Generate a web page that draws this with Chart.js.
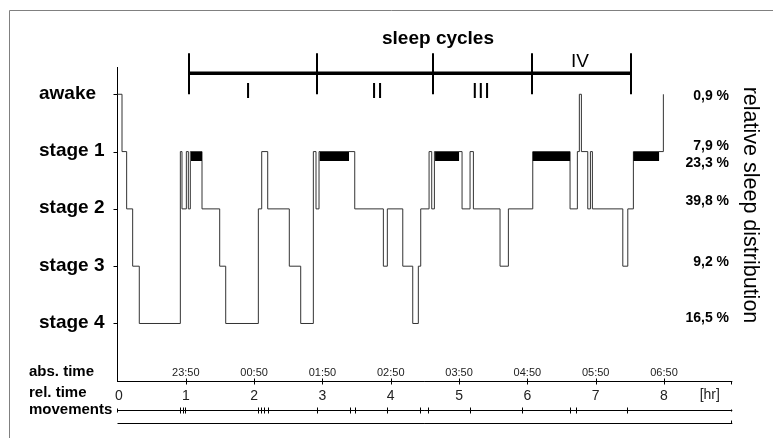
<!DOCTYPE html>
<html><head><meta charset="utf-8">
<script src="https://cdn.jsdelivr.net/npm/chart.js@4/dist/chart.umd.min.js"></script>
<style>html,body{margin:0;padding:0;background:#fff;}canvas{display:block;}</style>
</head><body>
<canvas id="c" width="773" height="438"></canvas>
<script>
// ---- data (hours since start, stage: 0=awake,1..4=stage 1..4) ----
const stageLabels = ['awake', 'stage 1', 'stage 2', 'stage 3', 'stage 4'];
const stagePercents = ['0,9 %', '7,9 %', '39,8 %', '9,2 %', '16,5 %'];
const remPercent = '23,3 %';
const hypnoTimes = [0.000, 0.066, 0.134, 0.222, 0.319, 0.920, 0.944, 1.008, 1.037, 1.066,
  1.237, 1.496, 1.584, 2.062, 2.111, 2.199, 2.515, 2.682, 2.867, 2.906, 2.950, 3.473,
  3.892, 3.950, 4.176, 4.322, 4.404, 4.439, 4.561, 4.600, 4.639, 5.044, 5.161, 5.210,
  5.600, 5.722, 6.079, 6.625, 6.732, 6.761, 6.791, 6.884, 6.923, 6.952, 7.397, 7.470,
  7.552, 7.991];
const hypnoStages = [0, 1, 2, 3, 4, 1, 2, 1, 2, 1,
  2, 3, 4, 2, 1, 2, 3, 4, 1, 2, 1, 2,
  3, 2, 3, 4, 3, 2, 1, 2, 1, 2, 1, 2,
  3, 2, 1, 2, 1, 0, 1, 2, 1, 2, 3, 2,
  1, 0];
const remStarts = [1.076, 2.960, 4.649, 6.079, 7.552];
const remEnds   = [1.237, 3.389, 5.000, 6.625, 7.928];
const cycleBounds = [1.051, 2.921, 4.619, 6.073, 7.513];
const cycleNames = ['I', 'II', 'III', 'IV'];
const cycleLabelAt = [1.91, 3.80, 5.32, 6.77];
const relTicks = [0, 1, 2, 3, 4, 5, 6, 7, 8];
const relTickLabels = ['0', '1', '2', '3', '4', '5', '6', '7', '8'];
const absTimeLabels = ['23:50', '00:50', '01:50', '02:50', '03:50', '04:50', '05:50', '06:50'];
const movementTimes = [0.915, 0.952, 0.993, 2.064, 2.101, 2.138, 2.196, 2.917, 3.404, 3.477,
  3.941, 4.429, 4.546, 5.161, 5.918, 6.625, 6.713, 7.455];

const FONT = '"Liberation Sans", Arial, Helvetica, sans-serif';

const decor = {
  id: 'decor',
  beforeDatasetsDraw(chart) {
    const ctx = chart.ctx, xs = chart.scales.x, ys = chart.scales.y;
    const x0 = xs.getPixelForValue(0), xEnd = xs.getPixelForValue(xs.max);
    const top = chart.chartArea.top, bot = chart.chartArea.bottom;
    ctx.save();
    // frame
    ctx.strokeStyle = '#808080'; ctx.lineWidth = 1;
    ctx.beginPath(); ctx.moveTo(9.5, 438); ctx.lineTo(9.5, 10.5); ctx.lineTo(773, 10.5); ctx.stroke();
    // y axis
    ctx.strokeStyle = '#000';
    ctx.beginPath(); ctx.moveTo(x0, top); ctx.lineTo(x0, bot); ctx.stroke();
    stageLabels.forEach((l, i) => {
      const y = Math.round(ys.getPixelForValue(i)) + 0.5;
      ctx.beginPath(); ctx.moveTo(x0 - 4, y); ctx.lineTo(x0, y); ctx.stroke();
    });
    // x axis
    const xa = Math.round(bot) - 0.5;
    ctx.beginPath(); ctx.moveTo(x0, xa); ctx.lineTo(xEnd, xa); ctx.stroke();
    relTicks.forEach(t => {
      if (t === 0) return;
      const x = Math.round(xs.getPixelForValue(t)) + 0.5;
      ctx.beginPath(); ctx.moveTo(x, xa - 3); ctx.lineTo(x, xa + 3); ctx.stroke();
    });
    ctx.beginPath(); ctx.moveTo(Math.round(xEnd) - 0.5, xa); ctx.lineTo(Math.round(xEnd) - 0.5, xa + 3); ctx.stroke();
    // movements line
    const my = xa + 29;
    ctx.beginPath(); ctx.moveTo(x0, my); ctx.lineTo(xEnd, my); ctx.stroke();
    ctx.beginPath(); ctx.moveTo(x0, my - 2); ctx.lineTo(x0, my + 2); ctx.stroke();
    ctx.beginPath(); ctx.moveTo(Math.round(xEnd) - 0.5, my - 1); ctx.lineTo(Math.round(xEnd) - 0.5, my + 1); ctx.stroke();
    movementTimes.forEach(t => {
      const x = Math.round(xs.getPixelForValue(t)) + 0.5;
      ctx.beginPath(); ctx.moveTo(x, my - 3); ctx.lineTo(x, my + 3); ctx.stroke();
    });
    // bottom line
    const by = xa + 42;
    ctx.beginPath(); ctx.moveTo(x0, by); ctx.lineTo(xEnd, by); ctx.stroke();
    ctx.beginPath(); ctx.moveTo(Math.round(xEnd) - 0.5, by); ctx.lineTo(Math.round(xEnd) - 0.5, by - 3); ctx.stroke();
    ctx.restore();
  },
  afterDatasetsDraw(chart) {
    const ctx = chart.ctx, xs = chart.scales.x, ys = chart.scales.y;
    const bot = chart.chartArea.bottom;
    ctx.save();
    // REM bars below stage 1
    ctx.fillStyle = '#000';
    const y1 = Math.round(ys.getPixelForValue(1));
    remStarts.forEach((s, i) => {
      const a = xs.getPixelForValue(s), b = xs.getPixelForValue(remEnds[i]);
      ctx.fillRect(a, y1, b - a, 9);
    });
    // sleep cycles bar
    const cy = ys.getPixelForValue(0) - 21;
    ctx.strokeStyle = '#000';
    ctx.lineWidth = 3.5;
    ctx.beginPath();
    ctx.moveTo(xs.getPixelForValue(cycleBounds[0]), cy);
    ctx.lineTo(xs.getPixelForValue(cycleBounds[cycleBounds.length - 1]), cy);
    ctx.stroke();
    ctx.lineWidth = 2;
    cycleBounds.forEach(t => {
      const x = Math.round(xs.getPixelForValue(t));
      ctx.beginPath(); ctx.moveTo(x, cy - 20); ctx.lineTo(x, cy + 21); ctx.stroke();
    });
    ctx.fillStyle = '#000';
    ctx.textAlign = 'center'; ctx.textBaseline = 'alphabetic';
    cycleNames.forEach((n, i) => {
      const x = xs.getPixelForValue(cycleLabelAt[i]);
      if (i < 3) { ctx.font = '22px ' + FONT; ctx.fillText(n, x, cy + 25); }
      else { ctx.font = '19px ' + FONT; ctx.fillText(n, x, cy - 6.5); }
    });
    ctx.font = 'bold 19px ' + FONT;
    ctx.fillText('sleep cycles', 438, 44);
    // stage labels (left)
    ctx.textAlign = 'left';
    ctx.font = 'bold 19px ' + FONT;
    stageLabels.forEach((l, i) => {
      ctx.fillText(l, 39, ys.getPixelForValue(i) + 4.5);
    });
    // percentages (right)
    ctx.textAlign = 'right';
    const pctOff = [5.7, -1.6, -4, 0, -1.8];
    ctx.font = 'bold 14px ' + FONT;
    stagePercents.forEach((p, i) => {
      ctx.fillText(p, 729, ys.getPixelForValue(i) + pctOff[i]);
    });
    ctx.fillText(remPercent, 729, ys.getPixelForValue(1) + 15);
    // rotated title
    ctx.save();
    ctx.translate(750, 205);
    ctx.rotate(Math.PI / 2);
    ctx.textAlign = 'center'; ctx.textBaseline = 'middle';
    ctx.font = '21.5px ' + FONT;
    ctx.fillText('relative sleep distribution', 0, 0);
    ctx.restore();
    // bottom labels
    ctx.textAlign = 'left';
    ctx.font = 'bold 15px ' + FONT;
    const xa = Math.round(bot) - 0.5;
    ctx.fillText('abs. time', 29, xa - 6);
    ctx.fillText('rel. time', 29, xa + 15.5);
    ctx.fillText('movements', 29, xa + 32.5);
    // abs time labels
    ctx.textAlign = 'center';
    ctx.fillStyle = '#222';
    ctx.font = '11px ' + FONT;
    absTimeLabels.forEach((l, i) => {
      ctx.fillText(l, xs.getPixelForValue(i + 1), xa - 5.5);
    });
    // rel time labels
    ctx.font = '14px ' + FONT;
    relTickLabels.forEach((l, i) => {
      ctx.fillText(l, xs.getPixelForValue(relTicks[i]) + (i === 0 ? 1.5 : 0), xa + 18);
    });
    ctx.fillText('[hr]', xs.getPixelForValue(8.67), xa + 17.5);
    ctx.restore();
  }
};

new Chart(document.getElementById('c'), {
  type: 'line',
  data: {
    datasets: [{
      data: hypnoTimes.map((t, i) => ({ x: t, y: hypnoStages[i] })),
      stepped: true,
      borderColor: '#333',
      borderWidth: 1,
      pointRadius: 0,
      fill: false,
      clip: false
    }]
  },
  options: {
    responsive: false,
    animation: false,
    layout: { padding: { left: 117.5, right: 40.7, top: 67, bottom: 56 } },
    scales: {
      x: { type: 'linear', min: 0, max: 9, display: false },
      y: { type: 'linear', min: -0.476, max: 5.021, reverse: true, display: false }
    },
    plugins: { legend: { display: false }, tooltip: { enabled: false } }
  },
  plugins: [decor]
});
</script>
</body></html>
